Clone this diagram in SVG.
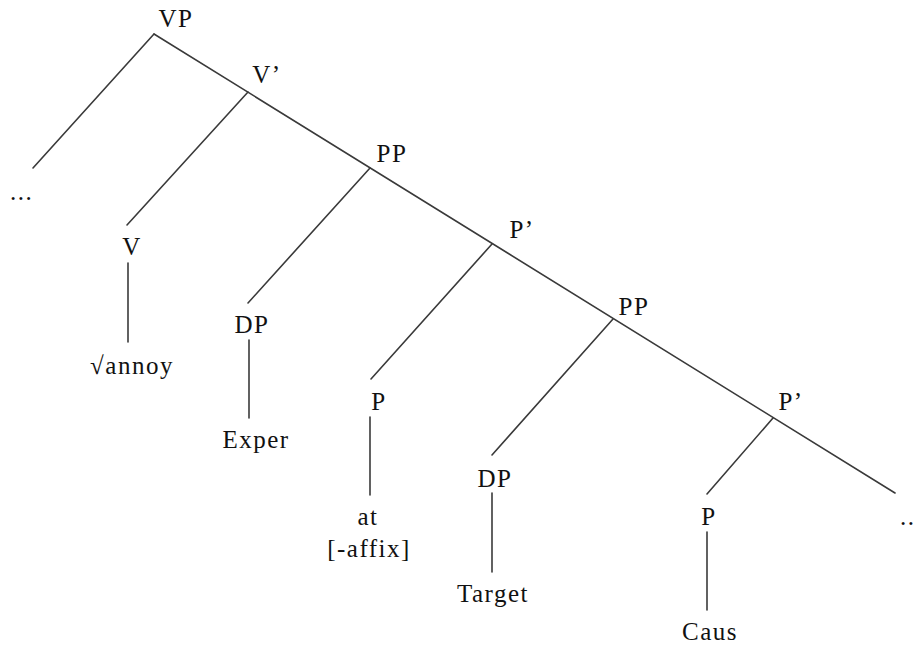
<svg xmlns="http://www.w3.org/2000/svg" width="914" height="646" viewBox="0 0 914 646">
<style>
.edge{stroke:#3a3a3a;stroke-width:1.6;fill:none;stroke-linecap:round}
.lbl{font-family:'Liberation Serif','Times New Roman',serif;font-size:25px;fill:#111;text-anchor:middle;letter-spacing:1.5px}
.dots{font-family:'Liberation Serif','Times New Roman',serif;font-size:25px;fill:#111;letter-spacing:1.5px}
</style>
<rect width="914" height="646" fill="#fff"/>
<g id="connectors">
<line class="edge" x1="154" y1="34" x2="895" y2="493"/>
<line class="edge" x1="154" y1="34" x2="33" y2="168"/>
<line class="edge" x1="248" y1="92" x2="127" y2="225"/>
<line class="edge" x1="128" y1="263" x2="128" y2="342"/>
<line class="edge" x1="370" y1="168" x2="248" y2="303"/>
<line class="edge" x1="249" y1="340" x2="249" y2="418"/>
<line class="edge" x1="492" y1="244" x2="371" y2="379"/>
<line class="edge" x1="370" y1="417" x2="370" y2="495"/>
<line class="edge" x1="613" y1="319" x2="492" y2="455"/>
<line class="edge" x1="492" y1="493" x2="492" y2="572"/>
<line class="edge" x1="773" y1="418" x2="707" y2="494"/>
<line class="edge" x1="707" y1="532" x2="707" y2="610"/>
</g>
<g id="n-vp"><text class="lbl" x="176" y="27">VP</text></g>
<g id="n-vbar"><text class="lbl" x="267" y="83">V’</text></g>
<g id="n-pp1"><text class="lbl" x="392" y="162">PP</text></g>
<g id="n-pbar1"><text class="lbl" x="522" y="238">P’</text></g>
<g id="n-pp2"><text class="lbl" x="634" y="315">PP</text></g>
<g id="n-pbar2"><text class="lbl" x="791" y="410">P’</text></g>
<g id="n-dots-left"><text class="dots" x="10" y="200">...</text></g>
<g id="n-v"><text class="lbl" x="132" y="255">V</text></g>
<g id="n-annoy"><text class="lbl" x="132" y="374">√annoy</text></g>
<g id="n-dp1"><text class="lbl" x="252" y="333">DP</text></g>
<g id="n-exper"><text class="lbl" x="256" y="448">Exper</text></g>
<g id="n-p1"><text class="lbl" x="379" y="410">P</text></g>
<g id="n-at"><text class="lbl" x="368" y="525">at</text><text class="lbl" x="369" y="557">[-affix]</text></g>
<g id="n-dp2"><text class="lbl" x="495" y="487">DP</text></g>
<g id="n-target"><text class="lbl" x="493" y="602">Target</text></g>
<g id="n-p2"><text class="lbl" x="709" y="525">P</text></g>
<g id="n-caus"><text class="lbl" x="710" y="640">Caus</text></g>
<g id="n-dots-right"><text class="dots" x="900" y="525">..</text></g>
</svg>
